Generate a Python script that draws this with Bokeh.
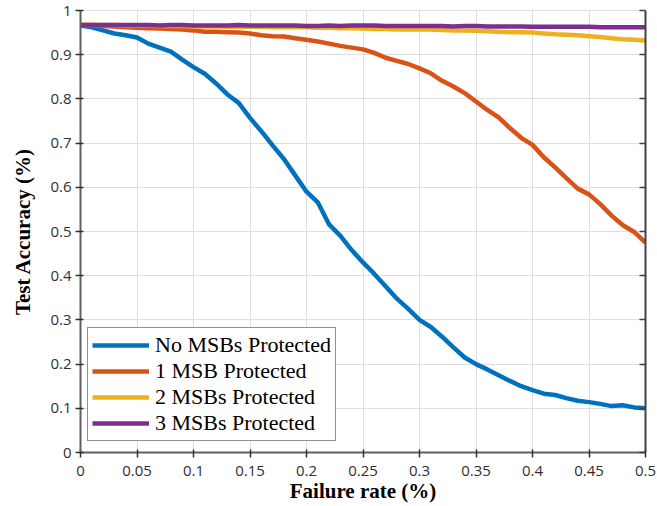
from bokeh.plotting import figure
from bokeh.models import Range1d, FixedTicker, LinearAxis, Legend, LegendItem
from bokeh.embed import file_html
from bokeh.resources import INLINE

failure_rate = [round(i * 0.01, 2) for i in range(51)]

no_msb = [0.966, 0.962, 0.955, 0.948, 0.944, 0.939, 0.925, 0.916, 0.907, 0.889,
          0.872, 0.857, 0.835, 0.810, 0.791, 0.757, 0.727, 0.695, 0.664, 0.627,
          0.590, 0.566, 0.516, 0.490, 0.458, 0.430, 0.404, 0.376, 0.348, 0.325,
          0.300, 0.284, 0.262, 0.238, 0.215, 0.200, 0.188, 0.175, 0.162, 0.150,
          0.141, 0.133, 0.130, 0.123, 0.117, 0.114, 0.110, 0.105, 0.107, 0.102,
          0.100]

one_msb = [0.967, 0.966, 0.965, 0.964, 0.962, 0.961, 0.960, 0.959, 0.958, 0.957,
           0.955, 0.952, 0.952, 0.951, 0.950, 0.948, 0.944, 0.942, 0.941, 0.937,
           0.934, 0.930, 0.925, 0.920, 0.916, 0.912, 0.904, 0.893, 0.886, 0.879,
           0.869, 0.858, 0.841, 0.828, 0.813, 0.794, 0.775, 0.758, 0.734, 0.712,
           0.696, 0.668, 0.645, 0.621, 0.597, 0.584, 0.562, 0.536, 0.514, 0.499,
           0.475]

two_msb = [0.968, 0.968, 0.967, 0.967, 0.966, 0.966, 0.966, 0.965, 0.965, 0.965,
           0.964, 0.964, 0.964, 0.963, 0.963, 0.963, 0.963, 0.962, 0.962, 0.962,
           0.962, 0.961, 0.961, 0.960, 0.960, 0.959, 0.958, 0.958, 0.957, 0.957,
           0.957, 0.957, 0.956, 0.955, 0.955, 0.954, 0.953, 0.952, 0.951, 0.951,
           0.950, 0.948, 0.946, 0.945, 0.944, 0.942, 0.940, 0.937, 0.935, 0.934,
           0.932]

three_msb = [0.967, 0.967, 0.967, 0.967, 0.967, 0.967, 0.967, 0.966, 0.967, 0.967,
             0.966, 0.966, 0.966, 0.966, 0.967, 0.966, 0.966, 0.966, 0.966, 0.966,
             0.965, 0.965, 0.966, 0.965, 0.966, 0.966, 0.966, 0.965, 0.965, 0.965,
             0.965, 0.965, 0.965, 0.964, 0.965, 0.965, 0.964, 0.964, 0.964, 0.964,
             0.963, 0.963, 0.963, 0.963, 0.963, 0.963, 0.962, 0.962, 0.962, 0.962,
             0.962]

series_labels = ["No MSBs Protected", "1 MSB Protected", "2 MSBs Protected", "3 MSBs Protected"]
series_colors = ["#0072BD", "#D95319", "#EDB120", "#7E2F8E"]

x_ticks = [0, 0.05, 0.1, 0.15, 0.2, 0.25, 0.3, 0.35, 0.4, 0.45, 0.5]
x_tick_labels = ["0", "0.05", "0.1", "0.15", "0.2", "0.25", "0.3", "0.35", "0.4", "0.45", "0.5"]
y_ticks = [0, 0.1, 0.2, 0.3, 0.4, 0.5, 0.6, 0.7, 0.8, 0.9, 1]
y_tick_labels = ["0", "0.1", "0.2", "0.3", "0.4", "0.5", "0.6", "0.7", "0.8", "0.9", "1"]

p = figure(width=656, height=505, output_backend="svg", toolbar_location=None,
           x_range=Range1d(0, 0.5), y_range=Range1d(0, 1),
           min_border_left=80, min_border_top=10, min_border_right=11, min_border_bottom=50)

p.background_fill_color = "white"
p.border_fill_color = "white"
p.outline_line_color = "#dcdcdc"

tick_font = "Open Sans"
tick_color = "#303030"
axis_col = "#606060"

p.xaxis.ticker = FixedTicker(ticks=x_ticks)
p.yaxis.ticker = FixedTicker(ticks=y_ticks)
p.xaxis.major_label_overrides = {t: l for t, l in zip(x_ticks, x_tick_labels)}
p.yaxis.major_label_overrides = {t: l for t, l in zip(y_ticks, y_tick_labels)}

for ax in (p.xaxis[0], p.yaxis[0]):
    ax.major_label_text_font = tick_font
    ax.major_label_text_font_size = "15px"
    ax.major_label_text_color = tick_color
    ax.axis_line_color = axis_col
    ax.axis_line_width = 2
    ax.major_tick_line_color = "#303030"
    ax.major_tick_line_width = 1.5
    ax.major_tick_out = 5
    ax.major_tick_in = 3
    ax.minor_tick_line_color = None
    ax.axis_label_text_font = "Liberation Serif"
    ax.axis_label_text_font_style = "bold"
    ax.axis_label_text_font_size = "21px"
    ax.axis_label_text_color = "black"

p.xaxis.axis_label = "Failure rate (%)"
p.yaxis.axis_label = "Test Accuracy (%)"
p.xaxis.major_label_standoff = 8
p.xaxis.axis_label_standoff = 0
p.yaxis.major_label_standoff = 4
p.yaxis.axis_label_standoff = 12

right_axis = LinearAxis(ticker=FixedTicker(ticks=y_ticks))
right_axis.major_label_overrides = {t: "" for t in y_ticks}
right_axis.major_label_text_font_size = "1px"
right_axis.major_label_standoff = 0
right_axis.axis_line_color = "#404040"
right_axis.axis_line_width = 2
right_axis.major_tick_line_color = "#404040"
right_axis.major_tick_line_width = 1.5
right_axis.major_tick_in = 6
right_axis.major_tick_out = 0
right_axis.minor_tick_line_color = None
p.add_layout(right_axis, "right")

p.xgrid.ticker = FixedTicker(ticks=x_ticks)
p.ygrid.ticker = FixedTicker(ticks=y_ticks)
p.grid.grid_line_color = "#dedede"
p.grid.grid_line_width = 1

all_series = [no_msb, one_msb, two_msb, three_msb]
items = []
for vals, lab, col in zip(all_series, series_labels, series_colors):
    r = p.line(failure_rate, vals, line_color=col, line_width=4.5)
    items.append(LegendItem(label=lab, renderers=[r]))

legend = Legend(items=items, location=(7, 11))
legend.label_text_font = "Liberation Serif"
legend.label_text_font_size = "22px"
legend.label_text_color = "black"
legend.glyph_width = 57
legend.glyph_height = 22
legend.label_height = 22
legend.label_standoff = 6
legend.spacing = 0
legend.padding = 4
legend.margin = 0
legend.border_line_color = "#262626"
legend.border_line_width = 1
legend.background_fill_color = "white"
legend.background_fill_alpha = 1
p.add_layout(legend, "center")

open("out.html", "w").write(file_html(p, INLINE))
